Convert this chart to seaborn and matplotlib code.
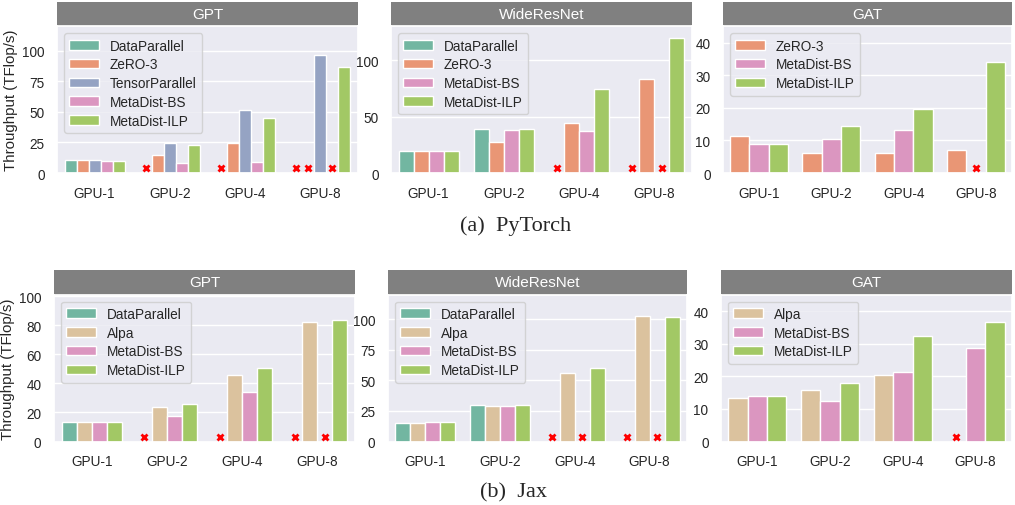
import numpy as np
import pandas as pd
import matplotlib
matplotlib.use("Agg")
import matplotlib.pyplot as plt
from matplotlib.patches import Rectangle
import seaborn as sns

nan = np.nan

GPUS = ["GPU-1", "GPU-2", "GPU-4", "GPU-8"]

# PyTorch (top row) - nan means the config failed (red cross)
pt_gpt = {
    "DataParallel":   [10.9, nan, nan, nan],
    "ZeRO-3":         [10.9, 15.0, 24.5, nan],
    "TensorParallel": [10.6, 24.5, 51.8, 96.7],
    "MetaDist-BS":    [9.8, 8.4, 9.3, nan],
    "MetaDist-ILP":   [9.8, 23.2, 45.2, 86.6],
}
pt_wrn = {
    "DataParallel": [19.1, 39.1, nan, nan],
    "ZeRO-3":       [19.1, 27.6, 44.1, 83.5],
    "MetaDist-BS":  [19.4, 38.5, 36.8, nan],
    "MetaDist-ILP": [19.4, 38.8, 74.4, 119.4],
}
pt_gat = {
    "ZeRO-3":       [11.2, 6.1, 6.1, 7.2],
    "MetaDist-BS":  [8.8, 10.5, 13.1, nan],
    "MetaDist-ILP": [8.9, 14.3, 19.7, 34.1],
}

# Jax (bottom row)
jax_gpt = {
    "DataParallel": [13.3, nan, nan, nan],
    "Alpa":         [13.3, 23.6, 45.9, 82.2],
    "MetaDist-BS":  [13.5, 17.8, 33.8, nan],
    "MetaDist-ILP": [13.5, 25.9, 50.9, 83.3],
}
jax_wrn = {
    "DataParallel": [15.1, 29.5, nan, nan],
    "Alpa":         [15.1, 28.9, 55.9, 102.2],
    "MetaDist-BS":  [15.9, 28.9, nan, nan],
    "MetaDist-ILP": [15.9, 30.0, 59.7, 101.4],
}
jax_gat = {
    "Alpa":         [13.2, 15.9, 20.3, nan],
    "MetaDist-BS":  [14.0, 12.4, 21.3, 28.7],
    "MetaDist-ILP": [14.0, 17.8, 32.4, 36.5],
}

set2 = sns.color_palette("Set2")
COLORS = {
    "DataParallel": set2[0],
    "ZeRO-3": set2[1],
    "TensorParallel": set2[2],
    "MetaDist-BS": set2[3],
    "MetaDist-ILP": set2[4],
    "Alpa": set2[6],
}

sns.set_theme(style="darkgrid")
plt.rcParams["font.family"] = ["Liberation Sans", "DejaVu Sans"]

fig = plt.figure(figsize=(10.15, 5.06), dpi=100)
W, H = 1015.0, 506.0


def px_axes(left, top, right, bottom):
    return fig.add_axes([left / W, 1 - bottom / H, (right - left) / W, (bottom - top) / H])


def panel(ax, data, title, ylim, yticks, ylabel=None):
    methods = list(data.keys())
    rows = []
    for m in methods:
        for g, v in zip(GPUS, data[m]):
            rows.append({"gpu": g, "method": m, "val": v})
    df = pd.DataFrame(rows)
    sns.barplot(data=df.dropna(), x="gpu", y="val", hue="method",
                order=GPUS, hue_order=methods,
                palette=COLORS, width=0.8, linewidth=1, edgecolor="white", ax=ax)
    ax.set_ylim(0, ylim)
    ax.set_yticks(yticks)
    ax.set_xlim(-0.5, len(GPUS) - 0.5)

    # red crosses for configurations that failed
    n = len(methods)
    each = 0.8 / n
    ymark = 0.034 * ylim
    for i, m in enumerate(methods):
        off = -0.4 + each * (i + 0.5)
        for j, v in enumerate(data[m]):
            if np.isnan(v):
                ax.plot(j + off, ymark, marker="x", color="red", markersize=5,
                        markeredgewidth=2.0, linestyle="none", zorder=5)

    ax.set_xlabel("")
    ax.set_ylabel(ylabel if ylabel else "", fontsize=10.8, labelpad=3)
    ax.tick_params(axis="both", labelsize=9.8, pad=3)
    handles, labels = ax.get_legend_handles_labels()
    ax.legend(handles, labels, loc="upper left", fontsize=9.8, handlelength=2.2,
              borderaxespad=0.5, framealpha=0.8, labelspacing=0.35)

    # grey title strip
    ax.add_patch(Rectangle((0, 1), 1, 0.167, transform=ax.transAxes,
                           facecolor="#808080", edgecolor="none", clip_on=False))
    ax.text(0.5, 1.0835, title, transform=ax.transAxes, ha="center", va="center",
            color="white", fontsize=11)


ylab = "Throughput (TFlop/s)"

ax = px_axes(57, 27.3, 358, 174)
panel(ax, pt_gpt, "GPT", 120, [0, 25, 50, 75, 100], ylab)
ax = px_axes(391, 27.3, 692, 174)
panel(ax, pt_wrn, "WideResNet", 130, [0, 50, 100])
ax = px_axes(723, 27.3, 1012, 174)
panel(ax, pt_gat, "GAT", 45, [0, 10, 20, 30, 40])

ax = px_axes(54, 295.7, 355, 442.5)
panel(ax, jax_gpt, "GPT", 101, [0, 20, 40, 60, 80, 100], ylab)
ax = px_axes(388, 295.7, 687, 442.5)
panel(ax, jax_wrn, "WideResNet", 120, [0, 25, 50, 75, 100])
ax = px_axes(721, 295.7, 1012, 442.5)
panel(ax, jax_gat, "GAT", 45, [0, 10, 20, 30, 40])

fig.text(516 / W, 1 - 226 / H, "(a)  PyTorch", ha="center", va="center",
         fontsize=16, family="Liberation Serif")
fig.text(513 / W, 1 - 493 / H, "(b)  Jax", ha="center", va="center",
         fontsize=16, family="Liberation Serif")

fig.savefig("out.png", dpi=100)
